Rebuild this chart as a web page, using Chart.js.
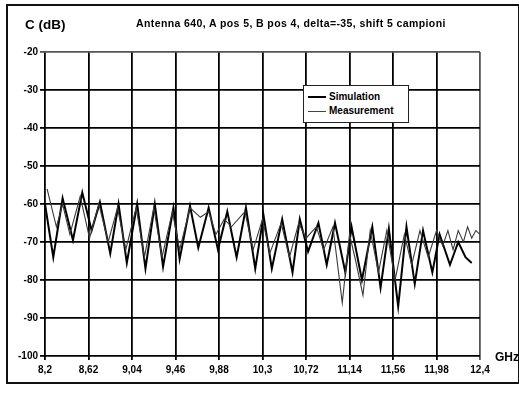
<!DOCTYPE html>
<html>
<head>
<meta charset="utf-8">
<script src="https://cdn.jsdelivr.net/npm/chart.js@4/dist/chart.umd.min.js"></script>
<style>
  html, body { margin: 0; padding: 0; background: #fff; }
  #wrap { position: relative; width: 519px; height: 395px; overflow: hidden; font-family: "Liberation Sans", Arial, sans-serif; }
  #frame { position: absolute; left: 6px; top: 4px; width: 510px; height: 376px; border: 2px solid #111; box-sizing: content-box; }
  canvas { position: absolute; left: 0; top: 0; }
  .txt { position: absolute; font-weight: bold; color: #000; white-space: nowrap; }
  #ylab { left: 25px; top: 17px; font-size: 13.5px; }
  #title { left: 136px; top: 17px; font-size: 10.5px; letter-spacing: 0.4px; }
  #xunit { left: 495px; top: 350px; font-size: 12px; }
  #legend { position: absolute; left: 303px; top: 85px; width: 104px; height: 36px; border: 1px solid #222; background: #fff; font-size: 10px; font-weight: bold; }
  .row { position: absolute; left: 4px; height: 12px; line-height: 12px; }
  .sw { display: inline-block; width: 18px; vertical-align: middle; margin-right: 3px; }
</style>
</head>
<body>
<div id="wrap">
  <div id="frame"></div>
  <canvas id="c" width="519" height="395"></canvas>
  <div class="txt" id="ylab">C (dB)</div>
  <div class="txt" id="title">Antenna 640, A pos 5, B pos 4, delta=-35, shift 5 campioni</div>
  <div class="txt" id="xunit">GHz</div>
  <div id="legend">
    <div class="row" style="top:5px"><span class="sw" style="border-top:2px solid #000"></span>Simulation</div>
    <div class="row" style="top:19px"><span class="sw" style="border-top:1px solid #444"></span>Measurement</div>
  </div>
</div>
<script>
// ---- data ----
const xTicks = [8.2, 8.62, 9.04, 9.46, 9.88, 10.3, 10.72, 11.14, 11.56, 11.98, 12.4];
const yTicks = [-20, -30, -40, -50, -60, -70, -80, -90, -100];

const simFreq = [8.20, 8.28, 8.37, 8.47, 8.56, 8.65, 8.73, 8.83, 8.91, 8.99, 9.09, 9.17, 9.26, 9.34, 9.44, 9.50,
  9.60, 9.68, 9.78, 9.87, 9.96, 10.05, 10.14, 10.23, 10.31, 10.39, 10.49, 10.59, 10.66, 10.74, 10.84, 10.92,
  11.00, 11.10, 11.16, 11.26, 11.36, 11.44, 11.52, 11.61, 11.69, 11.77, 11.85, 11.94, 12.01, 12.11, 12.19, 12.26, 12.32];
const simDb = [-60, -74, -58.5, -69.5, -57, -67, -59.5, -73, -60, -75.5, -60, -77, -60, -76.5, -61, -74.5,
  -60.5, -71.5, -61, -72, -62, -74, -61, -77, -63, -77, -64, -78, -64, -72.5, -65, -76,
  -65, -78, -66, -80, -66, -82, -66.5, -87, -66, -81, -67, -78, -68, -76, -70, -74, -75.5];

const measFreq = [8.22, 8.31, 8.37, 8.44, 8.54, 8.63, 8.72, 8.81, 8.90, 8.98, 9.08, 9.16, 9.25, 9.33, 9.43, 9.50,
  9.60, 9.70, 9.78, 9.85, 9.93, 10.00, 10.13, 10.21, 10.30, 10.37, 10.48, 10.56, 10.65, 10.72, 10.82, 10.89,
  10.98, 11.07, 11.14, 11.20, 11.27, 11.34, 11.42, 11.50, 11.58, 11.67, 11.74, 11.82, 11.90, 11.98, 12.04,
  12.09, 12.14, 12.19, 12.24, 12.28, 12.32, 12.36, 12.40];
const measDb = [-56, -66, -60, -68, -58, -69, -60, -70, -61, -72, -61, -74, -61, -74, -62, -72,
  -61, -63.5, -62, -68, -64, -66, -62, -72, -64, -73, -65, -74, -65, -69, -66, -72,
  -66, -86, -68, -75, -84, -67, -78, -67, -80, -68, -76, -67, -74, -67, -71,
  -67, -72, -67, -70, -66, -69, -67, -68];

const simPts = simFreq.map((f, i) => ({ x: f, y: simDb[i] }));
const measPts = measFreq.map((f, i) => ({ x: f, y: measDb[i] }));

const FONT = "'Liberation Sans', Arial, sans-serif";

new Chart(document.getElementById('c'), {
  type: 'line',
  data: {
    datasets: [
      { label: 'Measurement', data: measPts, borderColor: '#3a3a3a', borderWidth: 1.1, pointRadius: 0, tension: 0, fill: false },
      { label: 'Simulation', data: simPts, borderColor: '#000', borderWidth: 2, pointRadius: 0, tension: 0, fill: false }
    ]
  },
  options: {
    responsive: false,
    animation: false,
    events: [],
    layout: { padding: { left: 0, right: 39, top: 52, bottom: 0 } },
    plugins: { legend: { display: false }, tooltip: { enabled: false }, title: { display: false } },
    scales: {
      x: {
        type: 'linear', min: 8.2, max: 12.4,
        afterBuildTicks: s => { s.ticks = xTicks.map(v => ({ value: v })); },
        afterFit: s => { s.height = 39; },
        grid: { color: (c) => c.index === xTicks.length - 1 ? '#555' : '#000', lineWidth: 1.8, tickLength: 4, drawTicks: true },
        border: { display: false },
        ticks: {
          autoSkip: false, maxRotation: 0, padding: 4, color: '#000',
          font: { family: FONT, size: 10, weight: 'bold' },
          callback: v => String(parseFloat(Number(v).toFixed(2))).replace('.', ',')
        }
      },
      y: {
        min: -100, max: -20,
        afterBuildTicks: s => { s.ticks = yTicks.map(v => ({ value: v })); },
        afterFit: s => { s.width = 45; },
        grid: { color: (c) => c.tick && c.tick.value === -20 ? '#555' : '#000', lineWidth: 1.8, tickLength: 5 },
        border: { display: false },
        ticks: { padding: 2, color: '#000', font: { family: FONT, size: 10, weight: 'bold' } }
      }
    }
  }
});
</script>
</body>
</html>
